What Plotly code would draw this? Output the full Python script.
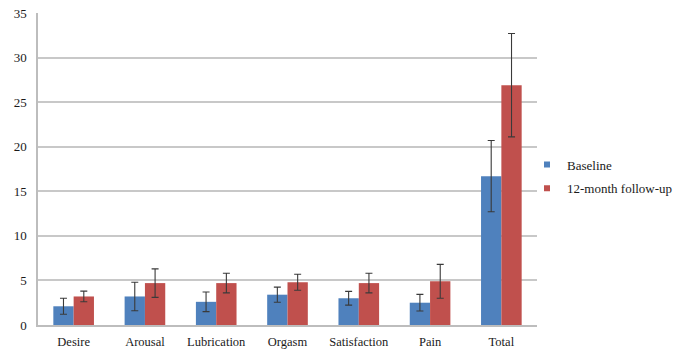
import plotly.graph_objects as go

categories = ["Desire", "Arousal", "Lubrication", "Orgasm", "Satisfaction", "Pain", "Total"]
baseline = [2.1, 3.2, 2.6, 3.4, 3.0, 2.5, 16.7]
baseline_err = [0.9, 1.6, 1.1, 0.85, 0.77, 0.93, 4.0]
followup = [3.2, 4.7, 4.7, 4.8, 4.7, 4.9, 26.9]
followup_err = [0.6, 1.6, 1.1, 0.9, 1.1, 1.9, 5.8]
series_names = ["Baseline", "12-month follow-up"]
series_colors = ["#4F81BD", "#C0504D"]
y_ticks = [0, 5, 10, 15, 20, 25, 30, 35]

font_family = "Liberation Serif"
text_color = "#1a1a1a"
err_style = dict(type="data", thickness=1.1, width=3.5, color="#3a3a3a")

fig = go.Figure()
for name, vals, errs, color in zip(series_names, [baseline, followup],
                                   [baseline_err, followup_err], series_colors):
    fig.add_trace(go.Bar(
        name=name, x=categories, y=vals, showlegend=False,
        error_y=dict(array=errs, **err_style),
        marker=dict(color=color, line=dict(width=0)),
    ))
# legend proxies with small square markers
for name, color in zip(series_names, series_colors):
    fig.add_trace(go.Scatter(
        name=name, x=[None], y=[None], mode="markers", legendgroup=name,
        marker=dict(symbol="square", size=6, color=color),
    ))

fig.update_layout(
    width=682, height=349,
    margin=dict(l=38, r=145, t=13, b=24, autoexpand=False),
    paper_bgcolor="white", plot_bgcolor="white",
    barmode="group", bargap=0.43, bargroupgap=0,
    font=dict(family=font_family, size=13, color=text_color),
    legend=dict(
        xref="container", yref="container",
        x=(567 - 40) / 682, y=1 - 176.5 / 349, xanchor="left", yanchor="middle",
        font=dict(family=font_family, size=13, color=text_color),
        itemwidth=30, tracegroupgap=4, bgcolor="rgba(0,0,0,0)",
    ),
    xaxis=dict(
        showgrid=False, showline=True, linecolor="#bdbdbd", linewidth=1.5,
        ticks="", tickfont=dict(family=font_family, size=12.5, color=text_color),
        automargin=False, ticklabelstandoff=4,
    ),
    yaxis=dict(
        range=[0, 35], tickvals=y_ticks, showgrid=True,
        gridcolor="#c8c8c8", gridwidth=1.6,
        showline=True, linecolor="#bdbdbd", linewidth=1.5,
        ticks="", ticklabelstandoff=7, zeroline=False,
        tickfont=dict(family=font_family, size=13, color=text_color),
        automargin=False,
    ),
)

fig.write_html("out.html", config={"displayModeBar": False},
               post_script="document.body.style.margin='0';")
